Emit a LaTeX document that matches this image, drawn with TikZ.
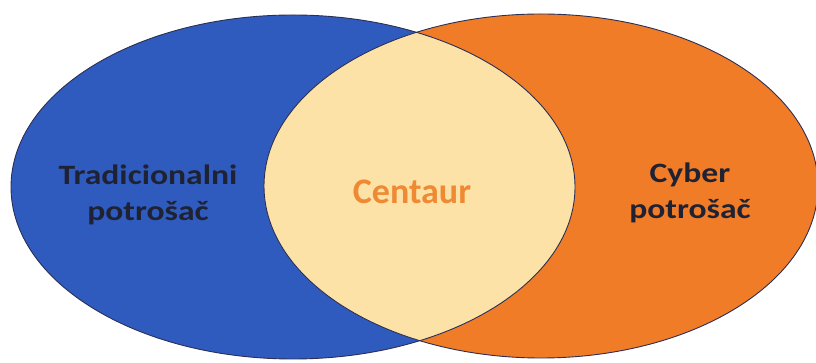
\documentclass[tikz,border=0pt]{standalone}
\usepackage{fontspec}
\setmainfont{Carlito}
\newfontfamily\widefont[FakeStretch=1.2]{Carlito}
\usetikzlibrary{positioning}
\definecolor{ink}{HTML}{1F2233}
\definecolor{rim}{HTML}{2B2F55}
\definecolor{royal}{HTML}{2F5BBE}
\definecolor{tangerine}{HTML}{F07C28}
\definecolor{cream}{HTML}{FDE2A7}
\definecolor{centaurtxt}{HTML}{EE8A33}
\tikzset{
  every node/.style={text=ink,align=center},
  setlabel/.style={font=\widefont\bfseries\fontsize{28}{36}\selectfont},
  mixlabel/.style={font=\bfseries\fontsize{36}{40}\selectfont,text=centaurtxt},
  rimline/.style={draw=rim,line width=0.9pt}
}
\begin{document}
\begin{tikzpicture}[x=1pt,y=1pt]
  \useasboundingbox (0,0) rectangle (816,363);
  % the two sets
  \fill[royal] (293,176) ellipse [x radius=282,y radius=172];
  \fill[tangerine] (541,177) ellipse [x radius=277,y radius=172];
  \begin{scope}
    \clip (293,176) ellipse [x radius=282,y radius=172];
    \fill[cream] (541,177) ellipse [x radius=277,y radius=172];
  \end{scope}
  \draw[rimline] (293,176) ellipse [x radius=282,y radius=172];
  \draw[rimline] (541,177) ellipse [x radius=277,y radius=172];

  \node[setlabel] (trad) at (148,168) {Tradicionalni\\potrošač};
  \node[mixlabel] (centaur) at (412,171) {Centaur};
  \node[setlabel] (cyber) at (690,170) {Cyber\\potrošač};
\end{tikzpicture}
\end{document}
